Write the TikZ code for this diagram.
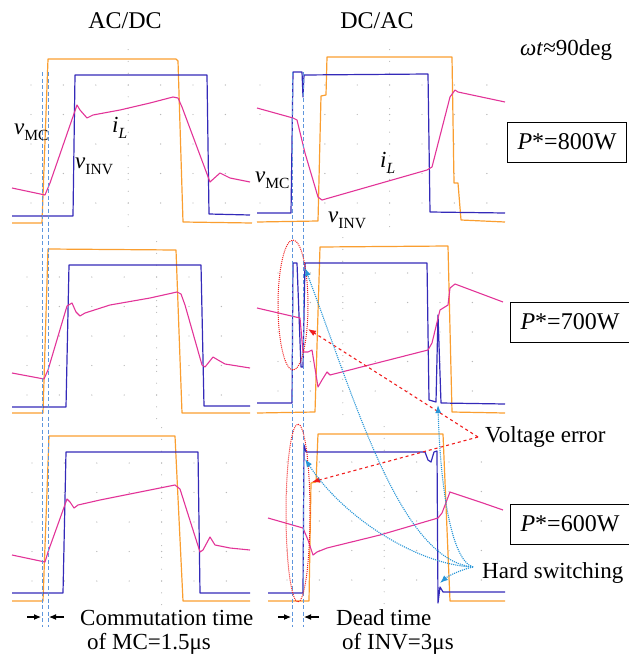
\documentclass[tikz,border=0pt]{standalone}
\usepackage{fontspec}
\setmainfont{Liberation Serif}
\usetikzlibrary{arrows.meta}
\definecolor{traceOrange}{RGB}{250,158,48}
\definecolor{traceBlue}{RGB}{52,42,185}
\definecolor{tracePink}{RGB}{226,52,152}
\definecolor{markBlue}{RGB}{95,150,220}
\definecolor{hardBlue}{RGB}{40,150,215}
\definecolor{errRed}{RGB}{240,30,30}
\newcommand{\sig}[2]{\textit{#1}\raisebox{-0.3em}{\fontsize{15.5}{15.5}\selectfont #2}}
\begin{document}
\begin{tikzpicture}[
        x=1pt, y=-1pt,
        orangeTrace/.style={draw=traceOrange, line width=1.2pt, line join=round},
        blueTrace/.style={draw=traceBlue, line width=1.2pt, line join=round},
        pinkTrace/.style={draw=tracePink, line width=1.1pt, line join=round},
        markerLine/.style={draw=markBlue, dash pattern=on 4pt off 2.5pt, line width=0.9pt},
        errRing/.style={draw=errRed, densely dotted, line width=1pt},
        errArrow/.style={draw=errRed, dashed, line width=1.1pt, -{Latex[length=8pt,width=6pt]}},
        hardArrow/.style={draw=hardBlue, densely dotted, line width=1.1pt, -{Latex[length=8pt,width=6pt]}},
        timeArrow/.style={-{Latex[length=7pt,width=6pt]}, line width=1.1pt},
        labelText/.style={font=\fontsize{23}{26}\selectfont, inner sep=0pt, anchor=base west},
        titleText/.style={font=\fontsize{24}{26}\selectfont, inner sep=0pt, anchor=base},
        powerBox/.style={draw, line width=0.8pt, minimum width=119pt, minimum height=40pt, inner sep=0pt, font=\fontsize{24}{26}\selectfont}
    ]
        \useasboundingbox (0,0) rectangle (629,656);

        % Scope grid dots
        \foreach \gx/\gy/\gn/\gc in {31/85/6/3, 260/85/7/4, 27/277/6/4, 278/273/6/2, 32/463/6/4, 287/462/6/3} {
            \foreach \i in {0,...,\gn}
                \foreach \j in {0,...,4}
                    \fill[gray!55] (\gx+32.4*\i, \gy+29.5*\j) circle (0.7pt);
            \foreach \j in {-3,...,12}
                \fill[gray!55] (\gx+32.4*\gc, \gy+11.8*\j) circle (0.6pt);
        }

        % Row 1, AC/DC
        \draw[orangeTrace] (12,223) -- (42,223) -- (48,59) -- (176,59) -- (178,61) -- (183,222) -- (252,223);
        \draw[blueTrace] (12,216) -- (73,216) -- (75,75) -- (207,75) -- (209,214) -- (250,215);
        \draw[pinkTrace] (12,188) -- (45,195) -- (50,183) -- (77,105) -- (80,110) -- (87,118) -- (93,115)
            -- (120,110) -- (150,103) -- (173,97) -- (178,98) -- (182,107) -- (210,182) -- (220,173) -- (230,178) -- (250,182);

        % Row 1, DC/AC
        \draw[orangeTrace] (257,222) -- (318,221) -- (321,96) -- (326,95) -- (327,57) -- (452,57) -- (454,183)
            -- (458,183) -- (461,220) -- (505,222);
        \draw[blueTrace] (257,213) -- (291,213) -- (293,72) -- (302,72) -- (303,97) -- (304,75) -- (428,74)
            -- (430,212) -- (505,213);
        \draw[pinkTrace] (257,108) -- (293,118) -- (297,120) -- (305,153) -- (318,197) -- (322,200) -- (427,170)
            -- (432,167) -- (450,97) -- (455,90) -- (458,92) -- (505,102);

        % Row 2, AC/DC
        \draw[orangeTrace] (12,413) -- (43,413) -- (48,249) -- (176,250) -- (182,413) -- (250,413);
        \draw[blueTrace] (12,407) -- (66,407) -- (69,265) -- (201,265) -- (204,406) -- (250,406);
        \draw[pinkTrace] (12,373) -- (44,379) -- (48,370) -- (67,306) -- (72,303) -- (76,312) -- (80,316) -- (85,313)
            -- (110,305) -- (150,298) -- (177,292) -- (181,294) -- (185,305) -- (202,365) -- (205,367) -- (213,357)
            -- (218,360) -- (225,364) -- (250,368);

        % Row 2, DC/AC
        \draw[orangeTrace] (257,413) -- (315,412) -- (320,247) -- (448,246) -- (452,412) -- (505,413);
        \draw[blueTrace] (257,403) -- (292,403) -- (293,263) -- (297,263) -- (301,367) -- (303,367) -- (305,263)
            -- (427,263) -- (429,400) -- (436,402) -- (438,315) -- (441,403) -- (505,404);
        \draw[pinkTrace] (257,308) -- (300,318) -- (303,352) -- (308,352) -- (312,350) -- (318,387) -- (322,380)
            -- (327,372) -- (330,375) -- (428,350) -- (432,343) -- (440,310) -- (448,305) -- (450,288) -- (455,284)
            -- (503,302);

        % Row 3, AC/DC
        \draw[orangeTrace] (12,601) -- (43,601) -- (49,436) -- (175,436) -- (183,601) -- (250,601);
        \draw[blueTrace] (12,593) -- (63,593) -- (66,452) -- (198,452) -- (200,593) -- (250,593);
        \draw[pinkTrace] (12,555) -- (45,562) -- (48,552) -- (67,499) -- (70,502) -- (74,508) -- (78,505)
            -- (100,500) -- (140,492) -- (175,485) -- (180,489) -- (200,552) -- (203,550) -- (210,537) -- (215,545)
            -- (230,548) -- (250,550);

        % Row 3, DC/AC
        \draw[orangeTrace] (268,601) -- (309,601) -- (311,483) -- (316,482) -- (318,434) -- (443,434) -- (450,601)
            -- (505,601);
        \draw[blueTrace] (268,593) -- (303,593) -- (304,445) -- (306,452) -- (425,452) -- (428,460) -- (431,462)
            -- (434,452) -- (437,451) -- (438,603) -- (440,587) -- (443,592) -- (505,592);
        \draw[pinkTrace] (268,518) -- (303,528) -- (308,540) -- (313,555) -- (317,552) -- (327,548) -- (380,535)
            -- (438,518) -- (442,513) -- (450,492) -- (453,493) -- (480,502) -- (503,510);

        % Commutation and dead time markers
        \draw[markerLine] (42,72) -- (42,627);
        \draw[markerLine] (48,72) -- (48,627);
        \draw[markerLine] (292,72) -- (292,627);
        \draw[markerLine] (303,72) -- (303,627);

        % Voltage error rings
        \draw[errRing] (293,305) ellipse [x radius=15pt, y radius=65pt];
        \draw[errRing] (298,513) ellipse [x radius=12pt, y radius=89pt];

        % Titles
        \node[titleText] (acdc) at (125,28) {AC/DC};
        \node[titleText] (dcac) at (377,28) {DC/AC};
        \node[labelText] (angle) at (520,55) {\textit{ωt}≈90deg};

        % Signal labels
        \node[labelText] (vmcA) at (14,134) {\sig{v}{MC}};
        \node[labelText] (ilA) at (112,132) {\sig{i}{\textit{L}}};
        \node[labelText] (vinvA) at (75,168) {\sig{v}{INV}};
        \node[labelText] (vmcB) at (255,182) {\sig{v}{MC}};
        \node[labelText] (ilB) at (380,167) {\sig{i}{\textit{L}}};
        \node[labelText] (vinvB) at (328,222) {\sig{v}{INV}};

        % Power boxes
        \node[powerBox] (pw800) at (567,142) {\textit{P}*=800W};
        \node[powerBox] (pw700) at (570,322) {\textit{P}*=700W};
        \node[powerBox] (pw600) at (570,524) {\textit{P}*=600W};

        % Annotations
        \node[labelText] (verr) at (485,442) {Voltage error};
        \node[labelText] (hsw) at (482,578) {Hard switching};
        \node[labelText] (commA) at (80,625) {Commutation time};
        \node[labelText] (commB) at (87,649) {of MC=1.5μs};
        \node[labelText] (deadA) at (336,625) {Dead time};
        \node[labelText] (deadB) at (342,649) {of INV=3μs};

        % Arrow end points
        \coordinate (verrFoot) at (478,437);
        \coordinate (errTwo) at (308,329);
        \coordinate (errThree) at (312,482);
        \coordinate (hswFoot) at (473,567);
        \coordinate (hsTwoL) at (305,268);
        \coordinate (hsTwoR) at (438,405);
        \coordinate (hsThreeL) at (305,459);
        \coordinate (hsThreeR) at (440,583);
        \coordinate (commL) at (27,617);
        \coordinate (commLt) at (41,617);
        \coordinate (commR) at (64,617);
        \coordinate (commRt) at (49,617);
        \coordinate (deadL) at (278,617);
        \coordinate (deadLt) at (291,617);
        \coordinate (deadR) at (319,617);
        \coordinate (deadRt) at (304,617);

        % Voltage error arrows
        \draw[errArrow] (verrFoot) -- (errTwo);
        \draw[errArrow] (verrFoot) -- (errThree);

        % Hard switching arrows
        \draw[hardArrow] (hswFoot) .. controls (400,560) and (355,400) .. (hsTwoL);
        \draw[hardArrow] (hswFoot) .. controls (450,560) and (440,480) .. (hsTwoR);
        \draw[hardArrow] (hswFoot) .. controls (420,565) and (345,520) .. (hsThreeL);
        \draw[hardArrow] (hswFoot) .. controls (460,570) and (448,576) .. (hsThreeR);

        % Time arrows
        \draw[timeArrow] (commL) -- (commLt);
        \draw[timeArrow] (commR) -- (commRt);
        \draw[timeArrow] (deadL) -- (deadLt);
        \draw[timeArrow] (deadR) -- (deadRt);
    \end{tikzpicture}
\end{document}
